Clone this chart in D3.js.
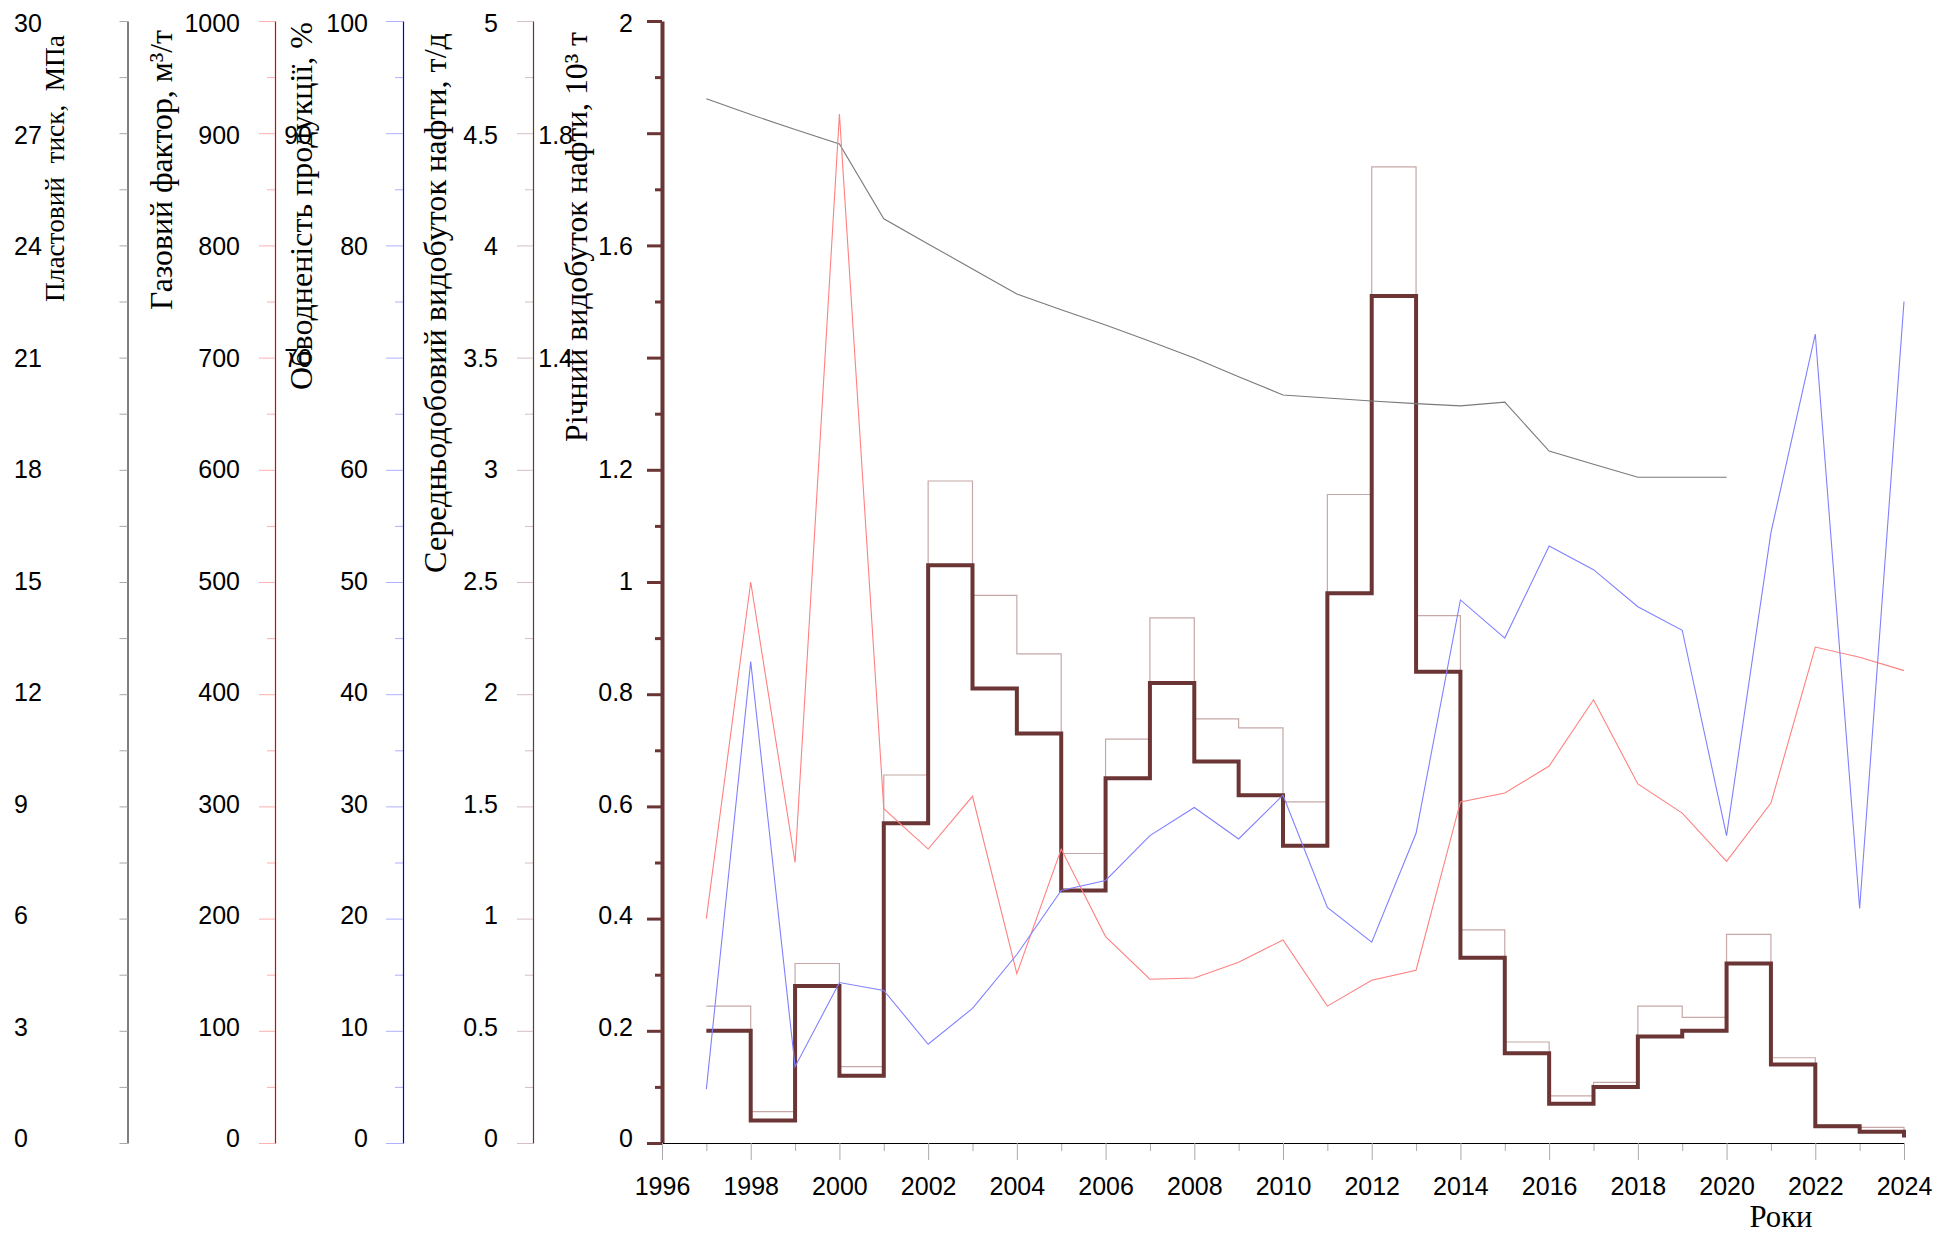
<!DOCTYPE html>
<html><head><meta charset="utf-8">
<script src="https://cdn.jsdelivr.net/npm/d3@7"></script>
<style>
html,body{margin:0;padding:0;background:#fff;}
svg{display:block;}
.ttl{font-family:"Liberation Serif","Times New Roman",serif; white-space:pre;}
</style></head><body>
<svg id="c" width="1937" height="1237"></svg>
<script>
// ---------- DATA ----------
const years = [1997,1998,1999,2000,2001,2002,2003,2004,2005,2006,2007,2008,2009,2010,2011,2012,2013,2014,2015,2016,2017,2018,2019,2020,2021,2022,2023,2024];
const pressureYears = [1997,1998,1999,2000,2001,2002,2003,2004,2005,2006,2007,2008,2009,2010,2011,2012,2013,2014,2015,2016,2017,2018,2019,2020];
const pressure = [27.92,27.5,27.1,26.71,24.71,24.04,23.37,22.70,22.28,21.87,21.44,20.99,20.49,20.0,19.92,19.84,19.77,19.71,19.81,18.50,18.15,17.8,17.8,17.8];
const gasFactor = [200,500,250,917,298,262,309,151,262,184,146,147,161,181,122,145,154,304,312,336,395,320,294,251,303,442,433,421];
const waterCut = [4.8,42.9,6.8,14.3,13.6,8.8,12.0,16.8,22.5,23.4,27.4,29.9,27.1,31.0,21.0,17.9,27.6,48.4,45.0,53.2,51.1,47.8,45.7,27.4,54.4,72.1,20.9,75.0];
const dailyOil = [0.61,0.14,0.80,0.34,1.64,2.95,2.44,2.18,1.29,1.80,2.34,1.89,1.85,1.52,2.89,4.35,2.35,0.95,0.45,0.21,0.27,0.61,0.56,0.93,0.38,0.08,0.07,0.04];
const annualOil = [0.20,0.04,0.28,0.12,0.57,1.03,0.81,0.73,0.45,0.65,0.82,0.68,0.62,0.53,0.98,1.51,0.84,0.33,0.16,0.07,0.10,0.19,0.20,0.32,0.14,0.03,0.02,0.01];

const xLabelYears = [1996,1998,2000,2002,2004,2006,2008,2010,2012,2014,2016,2018,2020,2022,2024];
const pressureLabels = [0,3,6,9,12,15,18,21,24,27,30];
const gasLabels = [0,100,200,300,400,500,600,700,800,900,1000];
const waterLabels = [0,10,20,30,40,50,60,70,80,90,100];
const dailyLabels = [0,0.5,1,1.5,2,2.5,3,3.5,4,4.5,5];
const annualLabels = [0,0.2,0.4,0.6,0.8,1,1.2,1.4,1.6,1.8,2];

const titles = {
  pressure: "Пластовий  тиск,  МПа",
  gas: "Газовий фактор, м³/т",
  water: "Обводненість продукції, %",
  daily: "Середньодобовий видобуток нафти, т/д",
  annual: "Річний видобуток нафти, 10³ т",
  x: "Роки"
};

// ---------- LAYOUT ----------
const W = 1937, H = 1237;
const TOP = 21, BOT = 1143;
const LBL_TOP = 22.8, LBL_BOT = 1137.5;
const svg = d3.select('#c');
svg.append('rect').attr('width', W).attr('height', H).attr('fill', '#fff');

const x = d3.scaleLinear().domain([1996, 2024]).range([662, 1904]);
const mk = (max) => d3.scaleLinear().domain([0, max]).range([BOT, TOP]);
const mkL = (max) => d3.scaleLinear().domain([0, max]).range([LBL_BOT, LBL_TOP]);
const yP = mk(30), yG = mk(1000), yW = mk(100), yD = mk(5), yA = mk(2);

const fmt = d => String(d);
const TICKFONT = '"Liberation Sans", Arial, sans-serif';
const TICKSIZE = 25;

function yAxis(cfg) {
  const g = svg.append('g').attr('transform', `translate(${cfg.x},0)`);
  if (cfg.minor) {
    g.append('g')
      .call(d3.axisLeft(cfg.scale).tickValues(cfg.minor).tickSize(cfg.minorLen).tickSizeOuter(0).tickFormat(''))
      .call(s => s.select('.domain').remove())
      .call(s => s.selectAll('line').attr('stroke', cfg.tickColor).attr('stroke-width', cfg.tickWidth));
  }
  g.append('g')
    .call(d3.axisLeft(cfg.scale).tickValues(cfg.major).tickSize(cfg.majorLen).tickSizeOuter(0).tickFormat(''))
    .call(s => s.selectAll('line').attr('stroke', cfg.tickColor).attr('stroke-width', cfg.tickWidth))
    .call(s => s.select('.domain').attr('stroke', cfg.lineColor).attr('stroke-width', cfg.lineWidth));

  const lg = svg.append('g').attr('transform', `translate(${cfg.labelX},0)`)
    .call(d3.axisLeft(mkL(cfg.max)).tickValues(cfg.labels).tickSize(0).tickPadding(0).tickFormat(fmt));
  lg.select('.domain').remove();
  lg.attr('font-size', TICKSIZE).attr('font-family', TICKFONT).attr('text-anchor', cfg.anchor || 'end');
  lg.selectAll('text').attr('x', 0).attr('dy', '0.36em').attr('fill', '#000');
  if (cfg.shift) {
    lg.selectAll('.tick').filter(d => cfg.shift.values.includes(d)).select('text').attr('x', cfg.shift.dx);
  }
}

yAxis({ x: 127.5, scale: yP, max: 30, major: d3.range(0, 30.001, 1.5), majorLen: 8,
  tickColor: '#a8a8a8', tickWidth: 1, lineColor: '#000', lineWidth: 1,
  labels: pressureLabels, labelX: 14, anchor: 'start' });
yAxis({ x: 275, scale: yG, max: 1000, major: d3.range(0, 1000.1, 100), minor: d3.range(50, 1000, 100),
  majorLen: 16, minorLen: 8, tickColor: '#ffb0b0', tickWidth: 1, lineColor: '#e00000', lineWidth: 1.2,
  labels: gasLabels, labelX: 240 });
yAxis({ x: 403, scale: yW, max: 100, major: d3.range(0, 100.1, 10), minor: d3.range(5, 100, 10),
  majorLen: 17, minorLen: 8, tickColor: '#b0b0ff', tickWidth: 1, lineColor: '#0000e0', lineWidth: 1.2,
  labels: waterLabels, labelX: 368, shift: { values: [70, 90], dx: -56 } });
yAxis({ x: 533, scale: yD, max: 5, major: d3.range(0, 5.001, 0.5), minor: d3.range(0.25, 5, 0.5),
  majorLen: 16, minorLen: 8, tickColor: '#d4c0c0', tickWidth: 1, lineColor: '#6b3535', lineWidth: 1.2,
  labels: dailyLabels, labelX: 498 });
yAxis({ x: 662, scale: yA, max: 2, major: d3.range(0, 2.001, 0.2), minor: d3.range(0.1, 2, 0.2),
  majorLen: 15, minorLen: 7, tickColor: '#6b3535', tickWidth: 3, lineColor: '#6b3535', lineWidth: 4,
  labels: annualLabels, labelX: 633, shift: { values: [1.4, 1.8], dx: -60 } });

// X axis
const xg = svg.append('g').attr('transform', `translate(0,${BOT})`);
xg.append('g')
  .call(d3.axisBottom(x).tickValues(years.filter(y => y % 2 === 1)).tickSize(8).tickSizeOuter(0).tickFormat(''))
  .call(s => s.select('.domain').remove())
  .call(s => s.selectAll('line').attr('stroke', '#aaa'));
xg.append('g')
  .call(d3.axisBottom(x).tickValues(xLabelYears).tickSize(17).tickPadding(17).tickSizeOuter(0).tickFormat(fmt))
  .call(s => s.selectAll('line').attr('stroke', '#aaa'))
  .call(s => s.select('.domain').attr('stroke', '#000').attr('stroke-width', 1.2))
  .attr('font-size', TICKSIZE).attr('font-family', TICKFONT)
  .call(s => s.selectAll('text').attr('fill', '#000'));

// ---------- SERIES ----------
const plot = svg.append('g');
const stepLine = (ys) => d3.line().curve(d3.curveStepAfter).x((d, i) => x(years[i])).y(d => ys(d));
const linLine = (xs, ys) => d3.line().x((d, i) => x(xs[i])).y(d => ys(d));

plot.append('path').datum(dailyOil).attr('d', stepLine(yD))
  .attr('fill', 'none').attr('stroke', '#c6a8a8').attr('stroke-width', 1.2);
plot.append('path').datum(annualOil).attr('d', stepLine(yA))
  .attr('fill', 'none').attr('stroke', '#6b3535').attr('stroke-width', 4).attr('stroke-linejoin', 'miter');
plot.append('path').datum(pressure).attr('d', linLine(pressureYears, yP))
  .attr('fill', 'none').attr('stroke', '#7a7a7a').attr('stroke-width', 1.1);
plot.append('path').datum(gasFactor).attr('d', linLine(years, yG))
  .attr('fill', 'none').attr('stroke', '#ff8080').attr('stroke-width', 1.1);
plot.append('path').datum(waterCut).attr('d', linLine(years, yW))
  .attr('fill', 'none').attr('stroke', '#8080ff').attr('stroke-width', 1.1);

// ---------- TITLES ----------
function vTitle(text, xb, y0, y1) {
  const t = svg.append('text').attr('class', 'ttl').attr('font-size', 28)
    .attr('text-anchor', 'middle').attr('fill', '#000')
    .attr('transform', `translate(${xb},${(y0 + y1) / 2}) rotate(-90)`).text(text);
  const len = t.node().getComputedTextLength();
  t.attr('font-size', 28 * (y1 - y0) / len);
}
vTitle(titles.pressure, 64, 35, 302);
vTitle(titles.gas, 172, 30, 310);
vTitle(titles.water, 312, 22, 390);
vTitle(titles.daily, 446, 33, 573);
vTitle(titles.annual, 587, 32, 442);

const xt = svg.append('text').attr('class', 'ttl').attr('font-size', 28)
  .attr('text-anchor', 'middle').attr('x', 1781).attr('y', 1227).attr('fill', '#000').text(titles.x);
xt.attr('font-size', 28 * 63 / xt.node().getComputedTextLength());
</script>
</body></html>
